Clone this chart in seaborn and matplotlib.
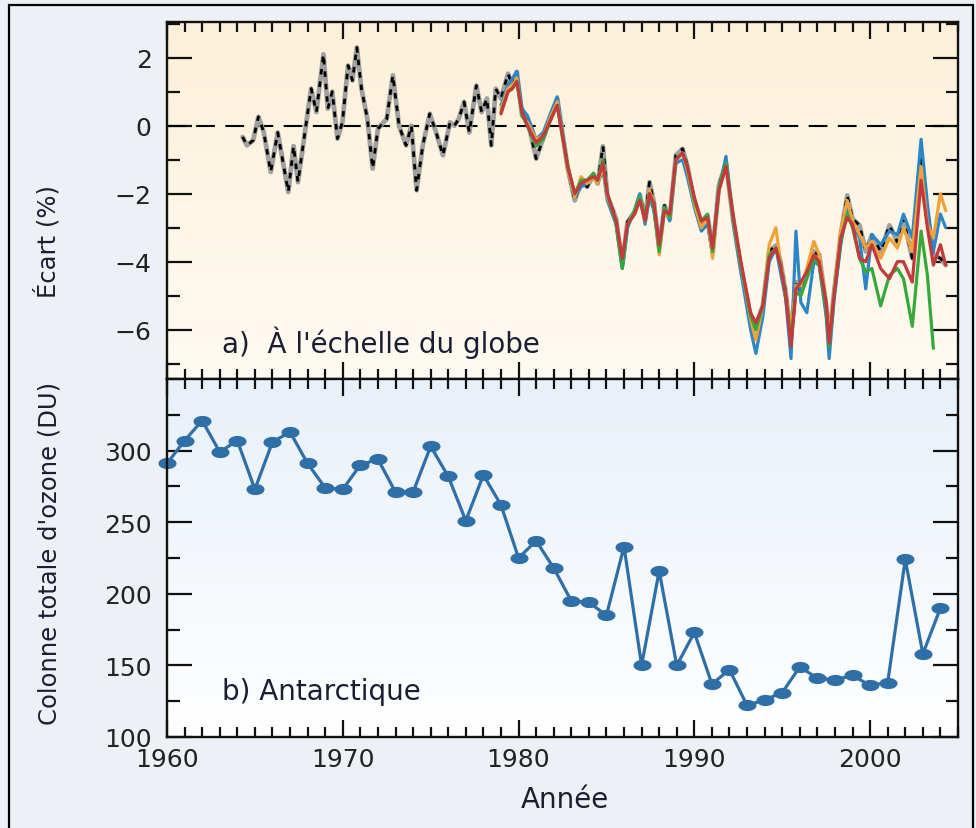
import numpy as np
import pandas as pd
import matplotlib
matplotlib.use("Agg")
import matplotlib.pyplot as plt
import seaborn as sns
from matplotlib.lines import Line2D
from matplotlib.path import Path
from matplotlib.ticker import MultipleLocator, FixedLocator

# --- Data ---

# a) global ozone deviation (%), ground-based record (black / grey)
GROUND_YEAR = [
    1964.3, 1964.55, 1964.9, 1965.2, 1965.5, 1965.9, 1966.3, 1966.9, 1967.2, 1967.45,
    1967.9, 1968.2, 1968.5, 1968.9, 1969.15, 1969.4, 1969.7, 1969.98, 1970.3, 1970.55,
    1970.8, 1971.06, 1971.4, 1971.7, 1972.0, 1972.5, 1972.85, 1973.2, 1973.6, 1973.9,
    1974.2, 1974.55, 1974.95, 1975.3, 1975.7, 1976.1, 1976.35, 1976.6, 1976.9, 1977.2,
    1977.6, 1977.9, 1978.2, 1978.45, 1978.7,
    1979.0, 1979.4, 1979.66, 1979.9, 1980.2, 1980.5, 1981.0, 1981.4, 1981.85, 1982.2,
    1982.8, 1983.2, 1983.56, 1983.9, 1984.26, 1984.5, 1984.8, 1985.05, 1985.55, 1985.9,
    1986.2, 1986.6, 1986.9, 1987.2, 1987.45, 1987.7, 1988.0, 1988.3, 1988.6, 1988.95,
    1989.33, 1989.6, 1990.0, 1990.4, 1990.75, 1991.04, 1991.4, 1991.8, 1992.2, 1992.65,
    1993.2, 1993.5, 1993.9, 1994.26, 1994.64, 1994.9, 1995.2, 1995.5, 1995.78, 1996.06,
    1996.4, 1996.8, 1997.1, 1997.5, 1997.67, 1997.95, 1998.33, 1998.7, 1999.0, 1999.4,
    1999.75, 2000.1, 2000.6, 2001.1, 2001.55, 2001.9, 2002.4, 2002.9, 2003.26, 2003.6,
    2004.0, 2004.3,
]
GROUND_DEV = [
    -0.33, -0.58, -0.43, 0.26, -0.18, -1.36, -0.2, -1.95, -0.6, -1.66,
    0.0, 1.09, 0.4, 2.1, 0.5, 1.0, -0.38, 0.1, 1.77, 1.33,
    2.3, 1.1, 0.2, -1.26, -0.09, 0.2, 1.48, 0.0, -0.58, 0.0,
    -1.9, -0.58, 0.35, -0.18, -0.87, 0.1, 0.0, 0.2, 0.7, -0.2,
    1.18, 0.4, 0.8, -0.58, 1.09,
    0.8, 1.53, 1.18, 1.58, 0.3, 0.2, -0.97, -0.38, 0.3, 0.8,
    -1.26, -2.2, -1.6, -1.8, -1.46, -1.7, -0.6, -2.05, -2.74, -4.1,
    -2.83, -2.54, -2.05, -2.74, -1.66, -2.25, -3.6, -2.35, -2.74, -0.87,
    -0.68, -1.17, -2.25, -2.93, -2.64, -3.72, -1.75, -1.1, -2.74, -4.2,
    -5.6, -5.9, -5.28, -3.7, -3.52, -4.0, -4.9, -6.2, -4.6, -4.9,
    -4.4, -3.7, -3.8, -5.28, -6.3, -4.9, -3.2, -2.05, -2.74, -2.93,
    -3.7, -3.22, -3.7, -2.93, -3.42, -2.74, -3.9, -0.9, -2.74, -3.8,
    -3.9, -4.1,
]

# satellite records share the ground-record dates from 1979 on
SAT_YEAR = GROUND_YEAR[GROUND_YEAR.index(1979.0):]

SAT_BLUE = [
    0.6, 1.2, 1.4, 1.6, 0.5, 0.3, -0.4, -0.2, 0.4, 0.85,
    -1.3, -2.1, -1.8, -1.7, -1.4, -1.7, -1.3, -2.2, -2.9, -4.2,
    -3.0, -2.5, -2.0, -2.9, -2.1, -2.5, -3.6, -2.4, -2.8, -1.1,
    -1.0, -1.5, -2.4, -3.1, -2.9, -3.8, -1.9, -0.9, -2.8, -4.3,
    -6.0, -6.7, -5.6, -4.0, -3.6, -4.3, -5.1, -6.85, -3.1, -5.2,
    -5.5, -4.0, -4.1, -5.6, -6.85, -5.1, -3.5, -2.4, -2.9, -3.3,
    -4.8, -3.2, -3.5, -3.1, -3.2, -2.6, -3.3, -0.4, -2.3, -3.7,
    -2.6, -3.0,
]
SAT_ORANGE = [
    0.5, 1.1, 1.2, 1.4, 0.3, 0.1, -0.4, -0.3, 0.3, 0.7,
    -1.3, -2.1, -1.5, -1.7, -1.5, -1.7, -1.2, -2.1, -2.8, -4.0,
    -2.9, -2.6, -2.1, -2.8, -1.9, -2.3, -3.8, -2.5, -2.7, -1.0,
    -0.8, -1.3, -2.3, -3.0, -2.7, -3.9, -1.9, -1.2, -2.7, -4.1,
    -5.7, -6.3, -5.3, -3.5, -3.0, -4.0, -5.0, -6.0, -4.7, -4.7,
    -4.2, -3.4, -3.8, -5.2, -6.2, -4.9, -3.1, -2.2, -2.8, -3.2,
    -3.6, -3.4, -3.9, -3.3, -3.6, -3.0, -3.7, -1.2, -2.9, -3.3,
    -2.0, -2.5,
]
SAT_GREEN = [
    0.4, 1.0, 1.1, 1.3, 0.3, 0.0, -0.6, -0.4, 0.2, 0.6,
    -1.2, -2.0, -1.6, -1.6, -1.4, -1.6, -1.0, -2.0, -2.9, -4.2,
    -2.9, -2.5, -2.1, -2.7, -2.0, -2.4, -3.7, -2.4, -2.7, -1.0,
    -0.8, -1.2, -2.2, -2.8, -2.6, -3.7, -1.8, -1.1, -2.7, -4.1,
    -5.6, -6.0, -5.3, -3.8, -3.6, -4.1, -5.0, -6.3, -4.9, -5.0,
    -4.5, -3.9, -4.1, -5.4, -6.5, -5.0, -3.4, -2.6, -3.0, -3.9,
    -4.3, -4.2, -5.3, -4.4, -4.2, -4.5, -5.9, -3.1, -4.4, -6.55,
    np.nan, np.nan,
]
SAT_RED = [
    0.35, 1.0, 1.1, 1.3, 0.4, 0.0, -0.5, -0.3, 0.2, 0.6,
    -1.2, -2.0, -1.7, -1.6, -1.5, -1.6, -1.1, -2.0, -2.8, -3.9,
    -2.9, -2.6, -2.2, -2.8, -2.0, -2.3, -3.5, -2.5, -2.6, -1.0,
    -0.8, -1.2, -2.1, -2.8, -2.7, -3.6, -1.9, -1.2, -2.6, -4.0,
    -5.5, -5.8, -5.3, -3.9, -3.6, -4.1, -5.0, -6.5, -4.8, -4.6,
    -4.3, -3.8, -4.0, -5.2, -6.4, -5.0, -3.3, -2.7, -2.9, -3.9,
    -4.0, -3.5, -4.2, -4.5, -4.0, -4.0, -4.6, -1.6, -3.0, -4.1,
    -3.5, -4.1,
]

# b) Antarctic total ozone column (DU), one value per year
ANT_YEAR = list(range(1960, 2005))
ANT_DU = [
    291, 307, 321, 299, 307, 273, 306, 313, 291, 274,
    273, 290, 294, 271, 271, 303, 282, 251, 283, 262,
    225, 237, 218, 195, 194, 185, 233, 150, 216, 150,
    173, 137, 147, 122, 126, 131, 149, 141, 140, 143,
    136, 138, 224, 158, 190,
]

PANEL_A_TEXT = "a)  À l'échelle du globe"
PANEL_B_TEXT = "b) Antarctique"
YLABEL_A = "Écart (%)"
YLABEL_B = "Colonne totale d'ozone (DU)"
XLABEL = "Année"

# --- Style ---
sns.set_theme(style="ticks")
plt.rcParams["font.family"] = ["DejaVu Sans"]
plt.rcParams["axes.linewidth"] = 1.7
plt.rcParams["axes.edgecolor"] = "#111111"

FIG_BG = "#edf0f4"
TEXT_DARK = "#1b1e33"
TICK_COL = "#222222"
OZONE_BLUE = "#2f6fa7"

W, H = 976, 829
fig = plt.figure(figsize=(W / 100, H / 100), dpi=100, facecolor=FIG_BG)

left, right = 167 / W, 958 / W
top_y, mid_y, bot_y = 1 - 23 / H, 1 - 380 / H, 1 - 738 / H
ax_a = fig.add_axes([left, mid_y, right - left, top_y - mid_y])
ax_b = fig.add_axes([left, bot_y, right - left, mid_y - bot_y])


def gradient_bg(ax, c_top, c_bottom):
    c1 = np.array(matplotlib.colors.to_rgb(c_top))
    c2 = np.array(matplotlib.colors.to_rgb(c_bottom))
    t = np.linspace(0, 1, 256)[:, None]
    img = (c1[None, :] * (1 - t) + c2[None, :] * t)[:, None, :]
    ax.imshow(img, extent=[0, 1, 0, 1], transform=ax.transAxes,
              aspect="auto", zorder=0, interpolation="bicubic")


gradient_bg(ax_a, "#fcf0d8", "#fffbf2")
gradient_bg(ax_b, "#e8f0f8", "#ffffff")

# --- Panel a ---
ground = pd.DataFrame({"year": GROUND_YEAR, "dev": GROUND_DEV})
sns.lineplot(data=ground, x="year", y="dev", ax=ax_a, color="#a0a0a0",
             linewidth=3.4, estimator=None, sort=False, zorder=2)
sns.lineplot(data=ground, x="year", y="dev", ax=ax_a, color="black",
             linewidth=2.0, estimator=None, sort=False, zorder=3)
ax_a.lines[-1].set_dashes([2.0, 2.5])

for vals, col in [(SAT_BLUE, "#2b86c8"), (SAT_ORANGE, "#f0a238"),
                  (SAT_GREEN, "#35a93c"), (SAT_RED, "#c23a3c")]:
    sat = pd.DataFrame({"year": SAT_YEAR, "dev": vals}).dropna()
    sns.lineplot(data=sat, x="year", y="dev", ax=ax_a, color=col,
                 linewidth=2.3, estimator=None, sort=False, zorder=4)

ax_a.axhline(0, color="black", linewidth=1.5, dashes=(9, 5), zorder=1.5)

ax_a.set_xlim(1960, 2005)
ax_a.set_ylim(-7.45, 3.05)
ax_a.yaxis.set_major_locator(FixedLocator([-6, -4, -2, 0, 2]))
ax_a.yaxis.set_minor_locator(MultipleLocator(1))
ax_a.set_yticklabels(["\u22126", "\u22124", "\u22122", "0", "2"])
ax_a.tick_params(axis="x", labelbottom=False)
ax_a.text(0.07, 0.104, PANEL_A_TEXT, transform=ax_a.transAxes, fontsize=20,
          color=TEXT_DARK, va="center", ha="left", zorder=6)

# --- Panel b ---
ant = pd.DataFrame({"year": ANT_YEAR, "du": ANT_DU})
theta = np.linspace(0, 2 * np.pi, 40)
ellipse = Path(np.column_stack([np.cos(theta), 0.62 * np.sin(theta)]))
sns.lineplot(data=ant, x="year", y="du", ax=ax_b, color=OZONE_BLUE,
             linewidth=2.3, marker=ellipse, markersize=13,
             markeredgewidth=0, estimator=None, zorder=4, clip_on=False)

ax_b.set_xlim(1960, 2005)
ax_b.set_ylim(100, 350)
ax_b.yaxis.set_major_locator(FixedLocator([100, 150, 200, 250, 300]))
ax_b.yaxis.set_minor_locator(MultipleLocator(25))
ax_b.text(0.07, 0.128, PANEL_B_TEXT, transform=ax_b.transAxes, fontsize=20,
          color=TEXT_DARK, va="center", ha="left", zorder=6)

for ax in (ax_a, ax_b):
    ax.set_autoscale_on(False)
    ax.set_xlabel("")
    ax.set_ylabel("")
    ax.xaxis.set_major_locator(MultipleLocator(10))
    ax.xaxis.set_minor_locator(MultipleLocator(1))
    ax.tick_params(which="both", direction="in", top=True, right=True,
                   width=1.6, color="#111111", labelcolor=TICK_COL,
                   labelsize=18)
    ax.tick_params(axis="y", which="major", length=18, pad=11)
    ax.tick_params(axis="y", which="minor", length=9)
    ax.tick_params(axis="x", which="major", length=12.5, pad=7)
    ax.tick_params(axis="x", which="minor", length=7)
    for s in ax.spines.values():
        s.set_visible(True)
        s.set_zorder(7)

# --- Labels ---
fig.text(47 / W, 1 - 242 / H, YLABEL_A, rotation=90, fontsize=17.5,
         color=TEXT_DARK, ha="center", va="center")
fig.text(50 / W, 1 - 553 / H, YLABEL_B, rotation=90, fontsize=17.5,
         color=TEXT_DARK, ha="center", va="center")
fig.text(565 / W, 1 - 800 / H, XLABEL, fontsize=20, color=TEXT_DARK,
         ha="center", va="center")

# frame around the figure
for xs, ys in [([9 / W, 973 / W], [1 - 6 / H, 1 - 6 / H]),
               ([9 / W, 9 / W], [1 - 6 / H, 0]),
               ([973 / W, 973 / W], [1 - 6 / H, 0])]:
    fig.add_artist(Line2D(xs, ys, transform=fig.transFigure,
                          color="black", linewidth=1.6))

fig.savefig("out.png", dpi=100, facecolor=FIG_BG)
